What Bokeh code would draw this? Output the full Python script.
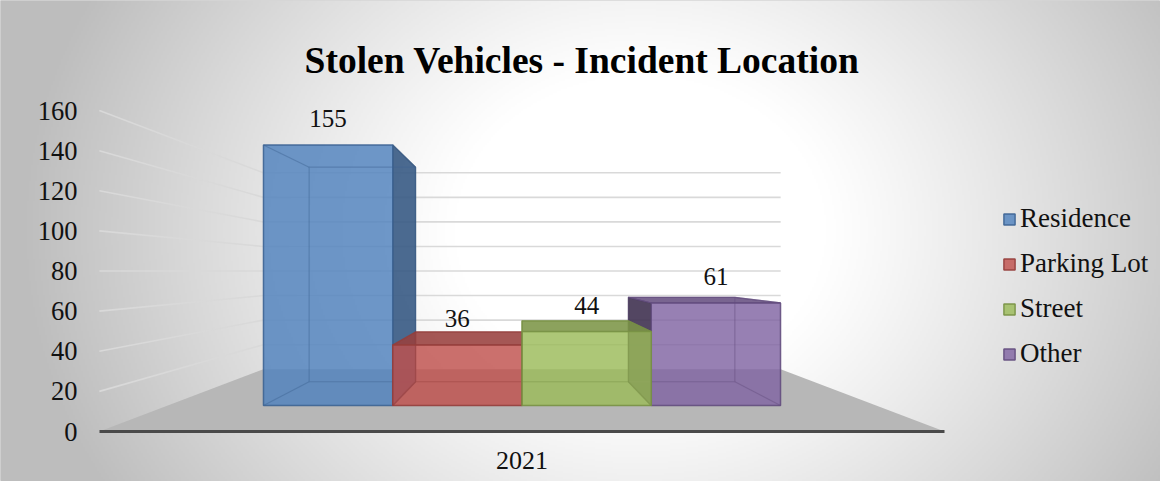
import numpy as np
from bokeh.plotting import figure
from bokeh.models import (Range1d, LinearAxis, FixedTicker, ColumnDataSource,
                          Legend, LegendItem, Label)
from bokeh.core.properties import value
from bokeh.embed import file_html
from bokeh.resources import INLINE

# ---------------- data ----------------
year_label = "2021"
categories = ["Residence", "Parking Lot", "Street", "Other"]
counts = [155, 36, 44, 61]
colors = ["#4F81BD", "#C0504D", "#9BBB59", "#8064A2"]
y_ticks = [0, 20, 40, 60, 80, 100, 120, 140, 160]
title_text = "Stolen Vehicles - Incident Location"

# ---------------- 3-D view parameters ----------------
VP_X, VP_Y = 2.0, 80.0            # vanishing point (front-plane data units)
T_BAR_FRONT, T_BAR_BACK, T_WALL = 0.162, 0.31, 0.388
FLOOR_L, FLOOR_R = -0.74, 4.74
FONT = "Liberation Serif"

W, H = 1160, 481
PX_X, X0 = 154.25, 213.0          # px per category unit, canvas px of X=0
PX_V, V0 = 2.006, 431.0           # px per count unit, canvas px (from top) of v=0


def proj(X, v, t):
    s = 1.0 - np.asarray(t, dtype=float)
    X = np.asarray(X, dtype=float)
    v = np.asarray(v, dtype=float)
    return VP_X + (X - VP_X) * s, VP_Y + (v - VP_Y) * s


def shade(hexcol, k):
    r, g, b = (int(hexcol[i:i + 2], 16) for i in (1, 3, 5))
    return "#%02x%02x%02x" % (int(r * k), int(g * k), int(b * k))


x_range = Range1d(-X0 / PX_X, (W - X0) / PX_X)
y_range = Range1d(-(H - V0) / PX_V, V0 / PX_V)

p = figure(width=W, height=H, x_range=x_range, y_range=y_range,
           output_backend="svg", toolbar_location=None,
           x_axis_type=None, y_axis_type=None, min_border=0,
           outline_line_color="#d6d6d6", background_fill_color="white",
           border_fill_color="white")
p.xgrid.visible = False
p.ygrid.visible = False

# ---------------- background radial gradient ----------------
gw, gh = W // 2, (H + 1) // 2
cx, cy = 640.0, 230.0
gx = (np.arange(gw) + 0.5) * W / gw
gy = H - (np.arange(gh) + 0.5) * H / gh
GX, GY = np.meshgrid(gx, gy)
d = np.sqrt(((GX - cx) / 620.0) ** 2 + ((GY - cy) / 520.0) ** 2)
f = np.clip((d - 0.3) / 0.7, 0, 1)
g = (255 - 66 * f ** 1.1).astype(np.uint8)
img = np.empty((gh, gw), dtype=np.uint32)
view = img.view(dtype=np.uint8).reshape((gh, gw, 4))
view[..., 0] = g
view[..., 1] = g
view[..., 2] = g
view[..., 3] = 255
p.image_rgba(image=[img], x=x_range.start, y=y_range.start,
             dw=x_range.end - x_range.start, dh=y_range.end - y_range.start)

# ---------------- floor ----------------
fx, fy = proj([FLOOR_L, FLOOR_R, FLOOR_R, FLOOR_L], [0, 0, 0, 0],
              [0, 0, T_WALL, T_WALL])
p.patch(list(fx), list(fy), fill_color="#b7b7b7", line_color=None)

# ---------------- perspective gridlines ----------------
wall_xs, wall_ys = [], []
for v in y_ticks[1:]:
    ax, ay = proj([FLOOR_L, FLOOR_L], [v, v], [0, T_WALL])
    wall_xs.append(list(ax)); wall_ys.append(list(ay))
    bx, by = proj([FLOOR_L, FLOOR_R], [v, v], [T_WALL, T_WALL])
    wall_xs.append(list(bx)); wall_ys.append(list(by))
p.multi_line(wall_xs, wall_ys, line_color="#d9d9d9", line_width=1.6)

# ---------------- bars ----------------
order = sorted(range(len(counts)), key=lambda i: -abs(i + 0.5 - VP_X))
front_renderers = {}
for i in order:
    h = counts[i]
    x0, x1 = float(i), float(i + 1)
    base = colors[i]
    edge = shade(base, 0.78)
    # side faces (right side lit, left side in shadow)
    sides = ([(x1, 0.7)] if x1 < VP_X else []) + ([(x0, 0.5)] if x0 > VP_X else [])
    for xs_, k in sides:
        sx, sy = proj([xs_, xs_, xs_, xs_], [0, h, h, 0],
                      [T_BAR_FRONT, T_BAR_FRONT, T_BAR_BACK, T_BAR_BACK])
        p.patch(list(sx), list(sy), fill_color=shade(base, k), fill_alpha=0.9,
                line_color=shade(base, k * 0.85), line_alpha=0.8, line_width=1.2)
    # top face
    if h < VP_Y:
        tx, ty = proj([x0, x1, x1, x0], [h, h, h, h],
                      [T_BAR_FRONT, T_BAR_FRONT, T_BAR_BACK, T_BAR_BACK])
        p.patch(list(tx), list(ty), fill_color=shade(base, 0.8), fill_alpha=0.88,
                line_color=edge, line_alpha=0.8, line_width=1.2)
    # front face
    ffx, ffy = proj([x0, x1, x1, x0], [0, 0, h, h], [T_BAR_FRONT] * 4)
    src = ColumnDataSource(dict(xs=[list(ffx)], ys=[list(ffy)]))
    r = p.patches("xs", "ys", source=src, fill_color=base, fill_alpha=0.82,
                  line_color=edge, line_alpha=0.9, line_width=1.5)
    front_renderers[i] = r
    # inner (hidden) edges seen through translucent faces
    exs, eys = [], []
    bx_, by_ = proj([x0, x1, x1, x0, x0], [0, 0, h, h, 0], [T_BAR_BACK] * 5)
    exs.append(list(bx_)); eys.append(list(by_))
    for xx in (x0, x1):
        for vv in (0, h):
            ex, ey = proj([xx, xx], [vv, vv], [T_BAR_FRONT, T_BAR_BACK])
            exs.append(list(ex)); eys.append(list(ey))
    p.multi_line(exs, eys, line_color=edge, line_alpha=0.45, line_width=1.2)

# ---------------- data labels ----------------
lx, ly = proj([i + 0.5 for i in range(len(counts))], counts,
              [T_BAR_FRONT] * len(counts))
lab_src = ColumnDataSource(dict(x=list(lx), y=list(ly),
                                t=[str(c) for c in counts]))
p.text("x", "y", text="t", source=lab_src, text_font=value(FONT),
       text_font_size="25px", text_color="#111111", text_align="center",
       text_baseline="middle", y_offset=-26)

# ---------------- axes ----------------
yaxis = LinearAxis(ticker=FixedTicker(ticks=y_ticks),
                   fixed_location=(77.0 - X0) / PX_X,
                   axis_line_color=None, major_tick_line_color=None,
                   minor_tick_line_color=None, major_tick_out=0,
                   major_label_standoff=0,
                   major_label_text_font=FONT,
                   major_label_text_font_size="26.5px",
                   major_label_text_color="#111111")
p.add_layout(yaxis, "left")

center = len(categories) / 2.0
xaxis = LinearAxis(ticker=FixedTicker(ticks=[center]),
                   major_label_overrides={center: year_label},
                   fixed_location=0, bounds=(FLOOR_L, FLOOR_R),
                   axis_line_color="#4a4a4a", axis_line_width=3,
                   major_tick_line_color=None, minor_tick_line_color=None,
                   major_tick_out=0, major_label_standoff=20,
                   major_label_text_font=FONT,
                   major_label_text_font_size="26px",
                   major_label_text_color="#111111")
p.add_layout(xaxis, "below")

# ---------------- title ----------------
p.add_layout(Label(x=(581.5 - X0) / PX_X, y=(V0 - 60) / PX_V, text=title_text,
                   text_font=FONT, text_font_size="37.5px", text_font_style="bold",
                   text_align="center", text_baseline="middle",
                   text_color="#000000"))

# ---------------- legend ----------------
items = [LegendItem(label=categories[i], renderers=[front_renderers[i]])
         for i in range(len(categories))]
legend = Legend(items=items, location=(1002, 112), orientation="vertical",
                glyph_width=14, glyph_height=14, label_standoff=4,
                spacing=14, padding=0, margin=0,
                label_text_font=FONT, label_text_font_size="27px",
                label_text_color="#111111",
                background_fill_alpha=0, border_line_color=None)
p.add_layout(legend, "center")

open("out.html", "w").write(file_html(p, INLINE))
